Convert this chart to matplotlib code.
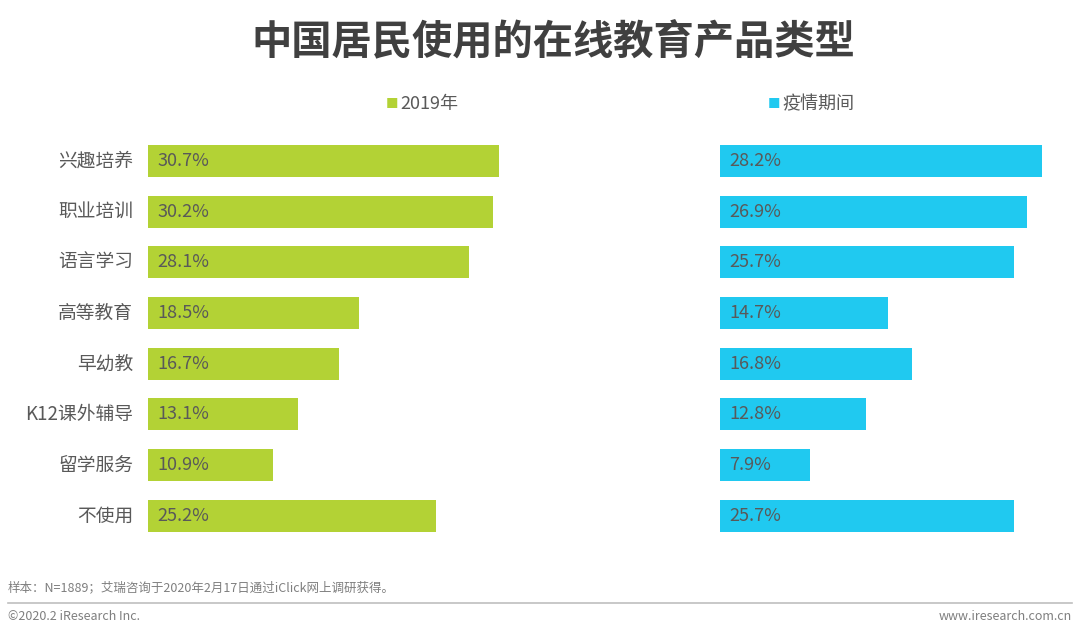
import matplotlib
matplotlib.use('Agg')
from matplotlib import pyplot as plt
from matplotlib.lines import Line2D

plt.rcParams['font.family'] = ['Noto Sans CJK SC', 'DejaVu Sans']

categories = ['兴趣培养', '职业培训', '语言学习', '高等教育', '早幼教', 'K12课外辅导', '留学服务', '不使用']
values_2019 = [30.7, 30.2, 28.1, 18.5, 16.7, 13.1, 10.9, 25.2]
values_epidemic = [28.2, 26.9, 25.7, 14.7, 16.8, 12.8, 7.9, 25.7]
series_names = ['2019年', '疫情期间']

green = '#b3d235'
blue = '#20c9f0'
text_gray = '#595959'

W, H = 1080, 633
fig = plt.figure(figsize=(W / 100, H / 100), dpi=100)

px = 11.43  # pixels per percent point
row_h = 50.7
top = 135.6
bottom_frac = (H - (top + row_h * 8)) / H
height_frac = row_h * 8 / H

ax1 = fig.add_axes([148 / W, bottom_frac, 400 / W, height_frac])
ax2 = fig.add_axes([720 / W, bottom_frac, 354 / W, height_frac])
ax1.set_xlim(0, 400 / px)
ax2.set_xlim(0, 354 / px)

y = range(len(categories))
for ax, vals, color in [(ax1, values_2019, green), (ax2, values_epidemic, blue)]:
    ax.barh(y, vals, height=0.63, color=color)
    ax.set_ylim(len(categories) - 0.5, -0.5)
    for i, v in enumerate(vals):
        ax.text(0.8, i, f'{v}%', va='center', ha='left', fontsize=13, color=text_gray)
    ax.axis('off')

for i, c in enumerate(categories):
    ax1.text(-1.3, i, c, va='center', ha='right', fontsize=13.5, color=text_gray)

# title
fig.text(553 / W, 1 - 43 / H, '中国居民使用的在线教育产品类型', ha='center', va='center',
         fontsize=29, fontweight='heavy', color='#404040')

# legend entries
fig.text(386 / W, 1 - 104 / H, '■', ha='left', va='center', fontsize=9, color=green)
fig.text(400 / W, 1 - 104 / H, series_names[0], ha='left', va='center', fontsize=13, color=text_gray)
fig.text(768 / W, 1 - 104 / H, '■', ha='left', va='center', fontsize=9, color=blue)
fig.text(782 / W, 1 - 104 / H, series_names[1], ha='left', va='center', fontsize=13, color=text_gray)

# footer
fig.text(8 / W, 1 - 588 / H, '样本：N=1889；艾瑞咨询于2020年2月17日通过iClick网上调研获得。',
         ha='left', va='center', fontsize=9, color='#7f7f7f')
fig.add_artist(Line2D([8 / W, 1072 / W], [1 - 603 / H, 1 - 603 / H], color='#bfbfbf', lw=1.2))
fig.text(8 / W, 1 - 617 / H, '©2020.2 iResearch Inc.', ha='left', va='center', fontsize=9, color='#7f7f7f')
fig.text(1072 / W, 1 - 617 / H, 'www.iresearch.com.cn', ha='right', va='center', fontsize=9, color='#7f7f7f')

fig.savefig('out.png', dpi=100)
